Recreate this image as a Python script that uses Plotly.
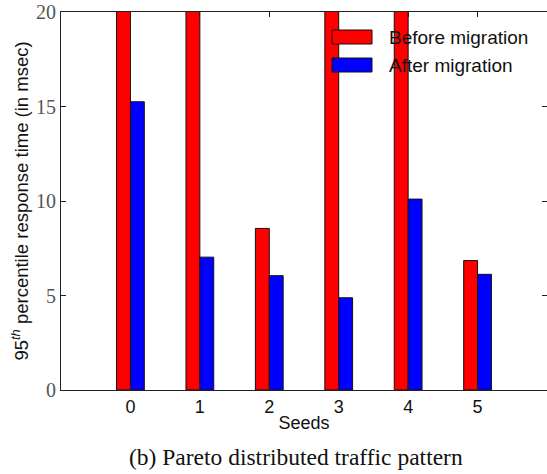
import plotly.graph_objects as go

# Seeds on the x axis
seeds = [0, 1, 2, 3, 4, 5]
seed_labels = ["0", "1", "2", "3", "4", "5"]

# 95th percentile response time (msec); axis is capped at 20
before_migration = [25, 25, 8.55, 25, 25, 6.85]
after_migration = [15.25, 7.03, 6.05, 4.88, 10.1, 6.12]

y_ticks = [0, 5, 10, 15, 20]

W, H = 547, 474
ML, MR, MT, MB = 61, 0, 12, 84

RED = "#ff0000"
BLUE = "#0000ff"
SANS = "Liberation Sans, Arial, sans-serif"
SERIF = "Liberation Serif, Times New Roman, serif"


def px_x(p):
    return (p - ML) / (W - ML - MR)


def px_y(p):
    return 1 - (p - MT) / (H - MT - MB)


fig = go.Figure()
fig.add_trace(go.Bar(x=seeds, y=before_migration, name="Before migration",
                     marker=dict(color=RED, line=dict(color="#111", width=1)),
                     showlegend=False))
fig.add_trace(go.Bar(x=seeds, y=after_migration, name="After migration",
                     marker=dict(color=BLUE, line=dict(color="#111", width=1)),
                     showlegend=False))

# hand-drawn legend: wide swatches with transparent background
legend_items = [("Before migration", RED, 30, 44), ("After migration", BLUE, 58, 72)]
for label, color, y0, y1 in legend_items:
    fig.add_shape(type="rect", xref="paper", yref="paper",
                  x0=px_x(332), x1=px_x(372), y0=px_y(y1), y1=px_y(y0),
                  fillcolor=color, line=dict(color="#111", width=1))
    fig.add_annotation(xref="paper", yref="paper", x=px_x(387), y=px_y((y0 + y1) / 2),
                       text=label, showarrow=False, xanchor="left", yanchor="middle",
                       font=dict(family=SANS, size=19, color="#111"))

# figure caption
fig.add_annotation(xref="paper", yref="paper", x=px_x(296), y=px_y(457),
                   text="(b) Pareto distributed traffic pattern", showarrow=False,
                   xanchor="center", yanchor="middle",
                   font=dict(family=SERIF, size=23.5, color="#111"))

fig.update_layout(
    width=W, height=H,
    margin=dict(l=ML, r=MR, t=MT, b=MB),
    paper_bgcolor="white", plot_bgcolor="white",
    barmode="group", bargap=0.6, bargroupgap=0,
    xaxis=dict(range=[-1, 6], tickvals=seeds, ticktext=seed_labels,
               ticks="inside", ticklen=5, tickcolor="#222",
               showline=True, linecolor="#222", linewidth=1, mirror="ticks",
               showgrid=False, zeroline=False,
               tickfont=dict(family=SANS, size=18, color="#111"),
               title=dict(text="Seeds", standoff=0,
                          font=dict(family=SANS, size=18, color="#111"))),
    yaxis=dict(range=[0, 20], tickvals=y_ticks,
               ticks="inside", ticklen=5, tickcolor="#222",
               showline=True, linecolor="#222", linewidth=1, mirror="ticks",
               showgrid=False, zeroline=False,
               tickfont=dict(family=SERIF, size=20, color="#555"),
               title=dict(text="95<sup><i>th</i></sup> percentile response time (in msec)",
                          standoff=2,
                          font=dict(family=SANS, size=18.5, color="#111"))),
)

fig.write_html("out.html")
